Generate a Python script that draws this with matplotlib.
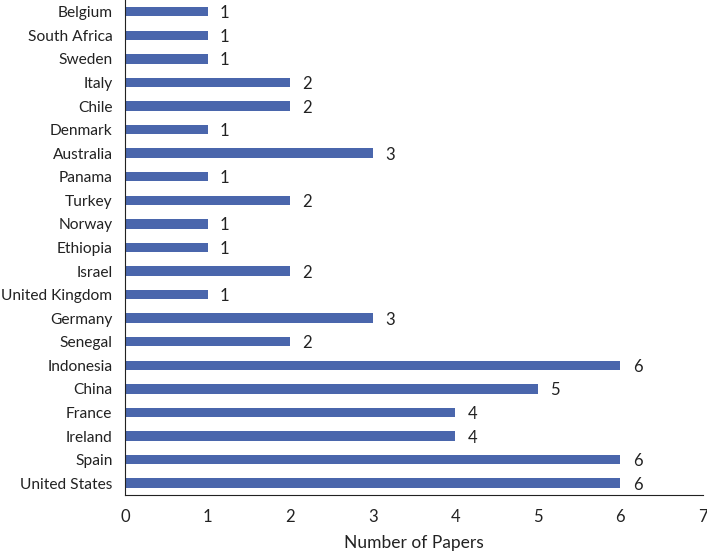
import matplotlib
matplotlib.use("Agg")
from matplotlib import pyplot as plt

countries = ['United States', 'Spain', 'Ireland', 'France', 'China', 'Indonesia',
             'Senegal', 'Germany', 'United Kingdom', 'Israel', 'Ethiopia', 'Norway',
             'Turkey', 'Panama', 'Australia', 'Denmark', 'Chile', 'Italy', 'Sweden',
             'South Africa', 'Belgium']
papers = [6, 6, 4, 4, 5, 6, 2, 3, 1, 2, 1, 1, 2, 1, 3, 1, 2, 2, 1, 1, 1]
x_ticks = [0, 1, 2, 3, 4, 5, 6, 7]

plt.rcParams['font.family'] = ['Lato', 'DejaVu Sans']
fs = 11.2

fig = plt.figure(figsize=(7.07, 5.54), dpi=100)
ax = fig.add_axes([0.1768, 0.1065, 0.8175, 0.8935])

y = range(len(countries))
ax.barh(y, papers, height=0.4, color='#4A66AC')

for i, v in enumerate(papers):
    ax.annotate(str(v), (v, i), xytext=(9, 0), textcoords='offset points',
                va='center_baseline', ha='left', fontsize=12, color='#222222')

ax.set_yticks(list(y))
ax.set_yticklabels(countries, fontsize=fs, color='#222222')
ax.set_xticks(x_ticks)
ax.set_xticklabels([str(t) for t in x_ticks], fontsize=12, color='#222222')
ax.tick_params(length=0)
ax.tick_params(axis='y', pad=9)
ax.tick_params(axis='x', pad=10)
ax.set_xlim(0, 7)
ax.set_ylim(-0.5, len(countries) - 0.5)

for s in ['top', 'right']:
    ax.spines[s].set_visible(False)
ax.spines['left'].set_color('#222222')
ax.spines['bottom'].set_color('#222222')

ax.set_xlabel('Number of Papers', fontsize=12.5, color='#222222', labelpad=7)

plt.savefig('out.png', dpi=100)
